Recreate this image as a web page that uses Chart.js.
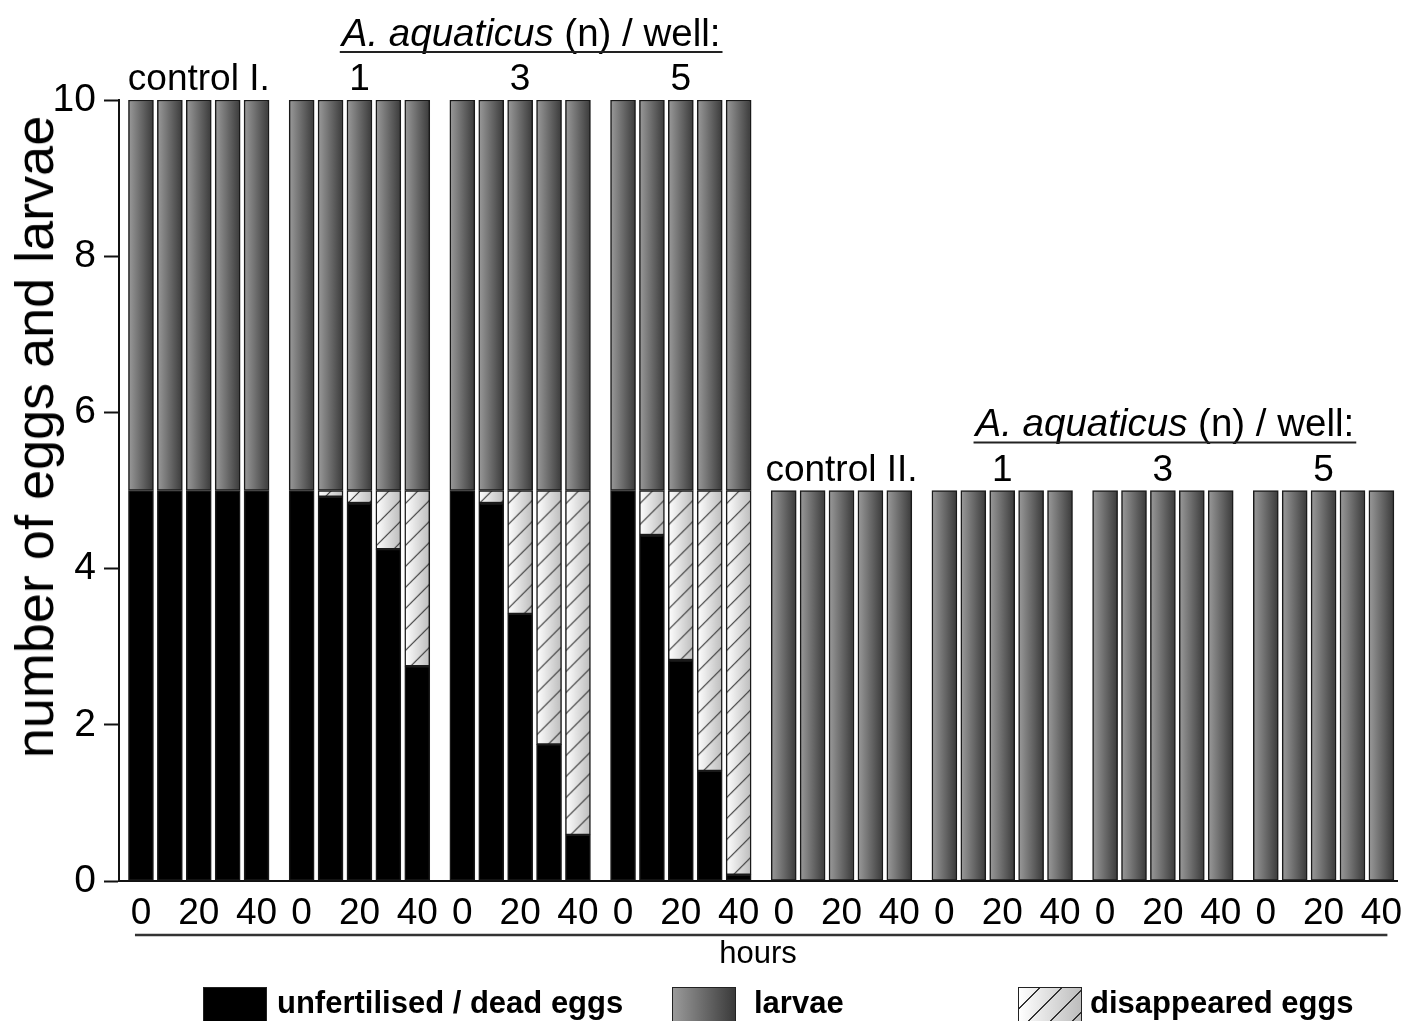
<!DOCTYPE html>
<html>
<head>
<meta charset="utf-8">
<script src="https://cdn.jsdelivr.net/npm/chart.js@4"></script>
<style>
  body { margin: 0; background: #fff; font-family: "Liberation Sans", Arial, sans-serif; }
  #wrap { position: relative; width: 1402px; height: 1021px; overflow: hidden; }
  .sw { position: absolute; top: 987px; width: 64px; height: 40px; border: 1.5px solid #222; box-sizing: border-box; }
  .lt { position: absolute; top: 985px; font-weight: bold; font-size: 31px; line-height: 36px; color: #000; white-space: nowrap; }
  #swDead { left: 203px; background: #000; }
  #swLarvae { left: 672px; background: linear-gradient(to right, #9a9a9a, #3a3a3a); }
  #swGone { left: 1018px; background: repeating-linear-gradient(135deg, transparent 0 14px, #333 14px 15.5px), linear-gradient(to right, #fff, #bdbdbd); }
  #yTitle { position: absolute; left: 34px; top: 437px; transform: translate(-50%, -50%) rotate(-90deg); font-size: 54px; line-height: 60px; white-space: nowrap; color: #000; }
</style>
</head>
<body>
<div id="wrap">
  <canvas id="eggChart"></canvas>
  <div id="yTitle">number of eggs and larvae</div>
  <div class="sw" id="swDead"></div><div class="lt" style="left:277px">unfertilised / dead eggs</div>
  <div class="sw" id="swLarvae"></div><div class="lt" style="left:754px">larvae</div>
  <div class="sw" id="swGone"></div><div class="lt" style="left:1090px">disappeared eggs</div>
</div>
<script>
// Groups and time points
const groupLabels = ['control I.', '1', '3', '5', 'control II.', '1', '3', '5'];
const headerText = ['A. aquaticus', ' (n) / well:'];
const hours = [0, 10, 20, 30, 40];
const hourTicks = [0, 20, 40];

// one value per bar, 5 bars (0..40 h) per group
const deadEggs = [
    5, 5, 5, 5, 5,
    5, 4.92, 4.84, 4.25, 2.75,
    5, 4.84, 3.42, 1.75, 0.59,
    5, 4.43, 2.83, 1.41, 0.08,
    0, 0, 0, 0, 0,
    0, 0, 0, 0, 0,
    0, 0, 0, 0, 0,
    0, 0, 0, 0, 0
];
const disappearedEggs = [
    0, 0, 0, 0, 0,
    0, 0.08, 0.16, 0.75, 2.25,
    0, 0.16, 1.58, 3.25, 4.41,
    0, 0.57, 2.17, 3.59, 4.92,
    0, 0, 0, 0, 0,
    0, 0, 0, 0, 0,
    0, 0, 0, 0, 0,
    0, 0, 0, 0, 0
];
const larvae = [
    5, 5, 5, 5, 5,
    5, 5, 5, 5, 5,
    5, 5, 5, 5, 5,
    5, 5, 5, 5, 5,
    5, 5, 5, 5, 5,
    5, 5, 5, 5, 5,
    5, 5, 5, 5, 5,
    5, 5, 5, 5, 5
];

const GROUP_SPAN = 5.56; // slots per group incl. gap
const BAR_W = 25;

function xFor(i) {
    const g = Math.floor(i / hours.length);
    return g * GROUP_SPAN + (i % hours.length);
}
function toPoints(arr) {
    return arr.map((v, i) => ({ x: xFor(i), y: v > 0 ? v : null }));
}

function barPixel(c) {
    const xs = c.chart.scales && c.chart.scales.x;
    if (!xs || !c.raw || c.type !== 'data') return NaN;
    return xs.getPixelForValue(c.raw.x);
}

function larvaeFill(c) {
    const px = barPixel(c);
    if (!isFinite(px)) return '#666';
    const g = c.chart.ctx.createLinearGradient(px - BAR_W / 2, 0, px + BAR_W / 2, 0);
    g.addColorStop(0, '#9a9a9a');
    g.addColorStop(1, '#3a3a3a');
    return g;
}

let hatchTile = null;
function getHatchTile() {
    if (hatchTile) return hatchTile;
    const w = BAR_W, h = 21;
    const c = document.createElement('canvas');
    c.width = w; c.height = h;
    const t = c.getContext('2d');
    const g = t.createLinearGradient(0, 0, w, 0);
    g.addColorStop(0, '#ffffff');
    g.addColorStop(1, '#bdbdbd');
    t.fillStyle = g;
    t.fillRect(0, 0, w, h);
    t.strokeStyle = '#333';
    t.lineWidth = 1.1;
    for (let k = -1; k <= 3; k++) {
        t.beginPath();
        t.moveTo(0, k * h);
        t.lineTo(w, k * h - w);
        t.stroke();
    }
    hatchTile = c;
    return c;
}
function hatchFill(c) {
    const px = barPixel(c);
    if (!isFinite(px)) return '#ddd';
    const p = c.chart.ctx.createPattern(getHatchTile(), 'repeat');
    p.setTransform(new DOMMatrix().translate(px - BAR_W / 2, 0));
    return p;
}

// group names, headers and the underline below the hour labels
const labelsPlugin = {
    id: 'groupLabels',
    afterDraw(chart) {
        const ctx = chart.ctx;
        const xs = chart.scales.x, ys = chart.scales.y;
        const font = '37px "Liberation Sans", Arial, sans-serif';
        const headFont = '38.5px "Liberation Sans", Arial, sans-serif';
        const tops = groupLabels.map((_, g) => {
            const i = g * hours.length;
            return ys.getPixelForValue(deadEggs[i] + disappearedEggs[i] + larvae[i]);
        });
        const centers = groupLabels.map((_, g) => xs.getPixelForValue(g * GROUP_SPAN + 2));
        ctx.save();
        ctx.fillStyle = '#000';
        ctx.textBaseline = 'middle';
        ctx.textAlign = 'center';
        ctx.font = font;
        groupLabels.forEach((lab, g) => ctx.fillText(lab, centers[g], tops[g] - 20));

        // "A. aquaticus (n) / well:" headers over treatment groups
        [[1, 3, 11], [5, 7, 2]].forEach(([a, b, shift]) => {
            const cx = (centers[a] + centers[b]) / 2 + shift;
            const y = tops[a] - 65;
            ctx.font = 'italic ' + headFont;
            const w1 = ctx.measureText(headerText[0]).width;
            ctx.font = headFont;
            const w2 = ctx.measureText(headerText[1]).width;
            const x0 = cx - (w1 + w2) / 2;
            ctx.textAlign = 'left';
            ctx.font = 'italic ' + headFont;
            ctx.fillText(headerText[0], x0, y);
            ctx.font = headFont;
            ctx.fillText(headerText[1], x0 + w1, y);
            ctx.strokeStyle = '#222';
            ctx.lineWidth = 2;
            ctx.beginPath();
            ctx.moveTo(x0 - 2, y + 17);
            ctx.lineTo(x0 + w1 + w2 + 2, y + 17);
            ctx.stroke();
        });

        // underline below hours tick labels
        const first = xs.getPixelForValue(xFor(0)) - 6;
        const last = xs.getPixelForValue(xFor(deadEggs.length - 1)) + 6;
        ctx.strokeStyle = '#333';
        ctx.lineWidth = 2.5;
        ctx.beginPath();
        ctx.moveTo(first, 935);
        ctx.lineTo(last, 935);
        ctx.stroke();
        ctx.restore();
    }
};

const common = {
    borderColor: '#1a1a1a',
    borderWidth: 1.5,
    borderSkipped: false,
    barThickness: BAR_W
};

const eggChart = new Chart(document.getElementById('eggChart'), {
    type: 'bar',
    data: {
        datasets: [
            { label: 'unfertilised / dead eggs', data: toPoints(deadEggs), backgroundColor: '#000', ...common },
            { label: 'disappeared eggs', data: toPoints(disappearedEggs), backgroundColor: hatchFill, ...common },
            { label: 'larvae', data: toPoints(larvae), backgroundColor: larvaeFill, ...common }
        ]
    },
    options: {
        responsive: true,
        maintainAspectRatio: false,
        animation: false,
        layout: { padding: { top: 100, right: 5, bottom: 48, left: 0 } },
        plugins: { legend: { display: false }, tooltip: { enabled: false } },
        scales: {
            x: {
                type: 'linear',
                stacked: true,
                offset: false,
                min: -0.76,
                max: 7 * GROUP_SPAN + 4.54,
                afterFit: s => { s.height = 92; s.paddingLeft = 0; s.paddingRight = 0; },
                afterBuildTicks: axis => {
                    const t = [];
                    groupLabels.forEach((_, g) => hourTicks.forEach(h => t.push({ value: g * GROUP_SPAN + hours.indexOf(h) })));
                    axis.ticks = t;
                },
                ticks: {
                    autoSkip: false,
                    maxRotation: 0,
                    padding: 11,
                    color: '#000',
                    font: { family: '"Liberation Sans", Arial, sans-serif', size: 37 },
                    callback: (v, i) => hourTicks[i % hourTicks.length]
                },
                grid: { display: false, drawTicks: false },
                border: { display: true, color: '#111', width: 2 },
                title: {
                    display: true,
                    text: 'hours',
                    color: '#000',
                    font: { family: '"Liberation Sans", Arial, sans-serif', size: 31 },
                    padding: { top: 0, bottom: 0 }
                }
            },
            y: {
                stacked: true,
                min: 0,
                max: 10,
                afterFit: s => { s.width = 119; s.paddingTop = 0; },
                ticks: {
                    stepSize: 2,
                    padding: 8,
                    color: '#000',
                    font: { family: '"Liberation Sans", Arial, sans-serif', size: 39 }
                },
                grid: { drawOnChartArea: false, drawTicks: true, tickLength: 15, color: '#111', tickWidth: 2 },
                border: { display: true, color: '#111', width: 2 },
                title: { display: false }
            }
        }
    },
    plugins: [labelsPlugin]
});
</script>
</body>
</html>
